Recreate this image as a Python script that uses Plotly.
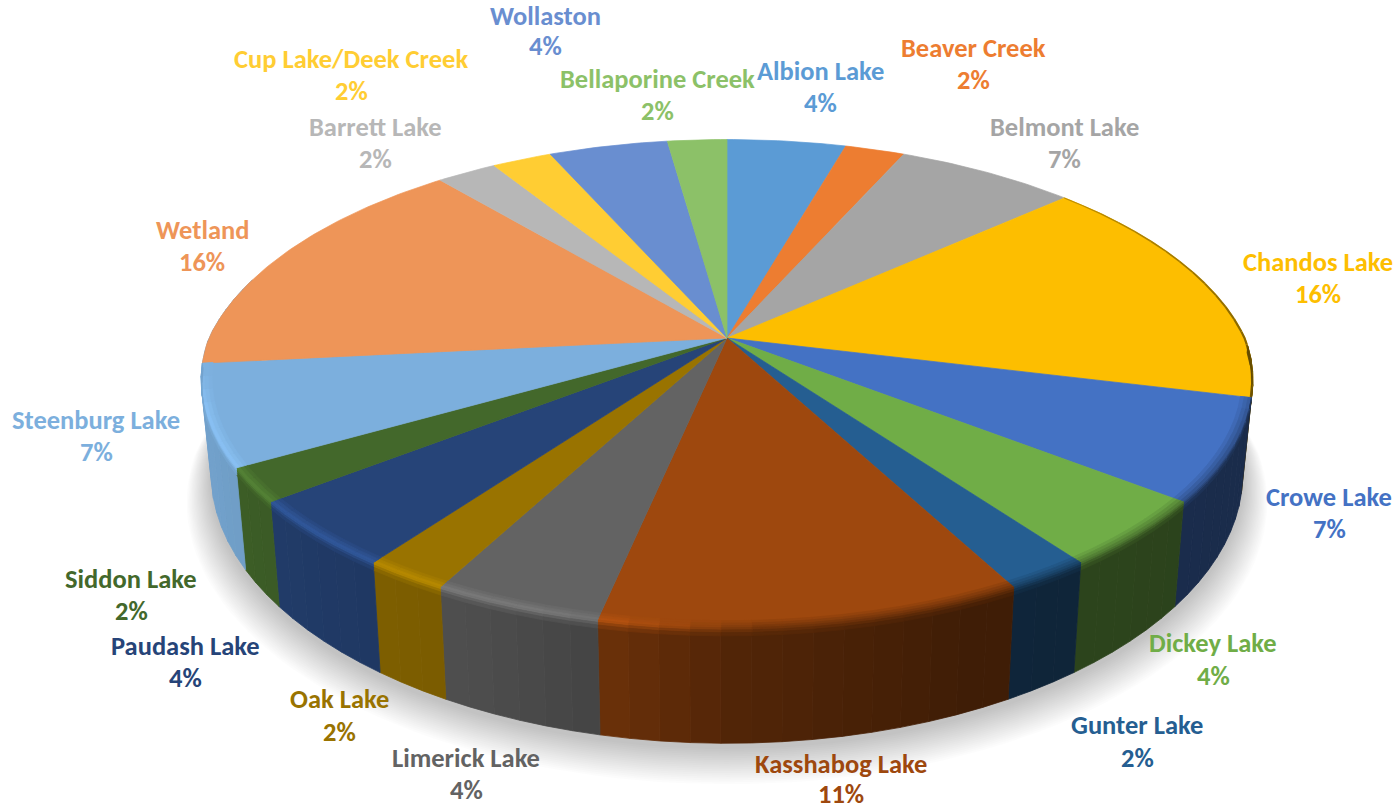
import numpy as np
import plotly.graph_objects as go

# ---------- data ----------
categories = ["Albion Lake", "Beaver Creek", "Belmont Lake", "Chandos Lake", "Crowe Lake",
              "Dickey Lake", "Gunter Lake", "Kasshabog Lake", "Limerick Lake", "Oak Lake",
              "Paudash Lake", "Siddon Lake", "Steenburg Lake", "Wetland", "Barrett Lake",
              "Cup Lake/Deek Creek", "Wollaston", "Bellaporine Creek"]
counts = [2, 1, 3, 7, 3, 2, 1, 5, 2, 1, 2, 1, 3, 7, 1, 1, 2, 1]

# ---------- styles ----------
colors = ["#5B9BD5", "#ED7D31", "#A5A5A5", "#FDBE00", "#4472C4", "#70AD47", "#255E91", "#9E480E",
          "#636363", "#997300", "#264478", "#43682B", "#7CAFDD", "#EE9558", "#B7B7B7", "#FFCD33",
          "#698ED0", "#8CC168"]
name_xy = [(820, 71), (973, 48), (1064, 127), (1318, 262), (1329, 497), (1213, 643), (1137, 725),
           (841, 764), (466, 758), (339, 699), (185, 646), (131, 579), (96, 420), (202, 230),
           (375, 127), (351, 59), (545, 16), (657, 79)]
pct_y = [103, 80, 159, 294, 529, 676, 758, 794, 790, 732, 678, 611, 452, 262, 159, 91, 46, 111]
FONT = "Carlito, Lato, sans-serif"
FONT_SIZE = 26.5

# perspective of the disc on the page
CX, CY = 727.0, 338.0
R_TOP, S_TOP = 518.0, 235.6
R_BOT, S_BOT, CY_BOT = 508.0, 255.5, 429.0
AY = 0.187


def ax_term(v):
    return 1 + np.where(v > 0, 0.21, 0.172) * v


def top_pt(theta, r=1.0):
    u, v = np.sin(theta) * r, np.cos(theta) * r
    return CX + R_TOP * u / ax_term(v), CY - S_TOP * v / (1 + AY * v)


def side_pt(theta, z):
    u, v = np.sin(theta), np.cos(theta)
    x0 = CX + R_TOP * u / ax_term(v)
    y0 = CY - S_TOP * v / (1 + AY * v)
    x1 = CX + R_BOT * u / ax_term(v)
    y1 = CY_BOT - S_BOT * v / (1 + AY * v)
    return x0 + (x1 - x0) * z, y0 + (y1 - y0) * z


def rgb(h):
    return np.array([int(h[i:i + 2], 16) for i in (1, 3, 5)], float)


def css(c):
    c = np.clip(c, 0, 255).round().astype(int)
    return f"rgb({c[0]},{c[1]},{c[2]})"


def side_factor(u):
    return np.interp(u, [-1, -0.95, -0.7, -0.4, -0.2, 0, 0.4, 1],
                     [0.92, 0.92, 0.85, 0.78, 0.68, 0.52, 0.40, 0.38])


def highlight(u):
    return np.interp(u, [-1, -0.3, -0.2, -0.1, 0.05, 1], [1, 1, 0.8, 0.5, 0, 0])


def poly(x, y, color, name=None):
    return go.Scatter(x=x, y=y, mode="lines", fill="toself", fillcolor=color,
                      line=dict(color=color, width=0.8), hoverinfo="skip",
                      showlegend=False, name=name)


fig = go.Figure()

# soft shadow below the disc
th = np.linspace(0, 2 * np.pi, 181)
for k in range(20, 0, -1):
    grow = 1 + 0.0024 * k
    bx, by = side_pt(th, 1.0)
    sx = CX + (bx - CX) * grow
    sy = CY_BOT + 4 + (by - CY_BOT) * grow + 1.1 * k
    fig.add_trace(go.Scatter(x=sx, y=sy, mode="lines", fill="toself", fillcolor="rgba(0,0,0,0.012)",
                             line=dict(width=0), hoverinfo="skip", showlegend=False))

total = sum(counts)
edges = np.cumsum([0] + counts) / total * 2 * np.pi
VIS0, VIS1 = np.radians(92), np.radians(285)
BEV0, BEV1 = np.radians(92), edges[categories.index("Wetland")]
bands = []

# outer wall; the Wetland part of the wall is hidden behind the Steenburg colour
for i, c in enumerate(colors):
    a0, a1 = max(edges[i], VIS0), min(edges[i + 1], VIS1)
    if a1 <= a0:
        continue
    base = rgb(c) if categories[i] != "Wetland" else rgb(colors[i - 1])
    grid = np.linspace(a0, a1, int(np.ceil(np.degrees(a1 - a0) / 3)) + 1)
    for t0, t1 in zip(grid[:-1], grid[1:]):
        tm = (t0 + t1) / 2
        u = np.sin(tm)
        wall = base * side_factor(u)
        seg = np.linspace(t0, t1, 3)
        xa, ya = side_pt(seg, 0.0)
        xb, yb = side_pt(seg[::-1], 1.0)
        fig.add_trace(poly(np.r_[xa, xb, xa[0]], np.r_[ya, yb, ya[0]], css(wall)))
        if tm > BEV1:
            continue
        mid = (base + wall) / 2
        lum = base @ np.array([0.3, 0.59, 0.11])
        bright = base * (1.45 - 0.35 * lum / 170)
        peak = mid + (bright - mid) * highlight(u)
        fade = min(1.0, (tm - BEV0) / np.radians(18), (BEV1 - tm) / np.radians(10))
        bands.append((seg, base, wall, peak, fade))

# top face
for i, (cat, c) in enumerate(zip(categories, colors)):
    seg = np.linspace(edges[i], edges[i + 1], max(4, counts[i] * 10))
    x, y = top_pt(seg)
    fig.add_trace(go.Scatter(x=np.r_[CX, x, CX], y=np.r_[CY, y, CY], mode="lines", fill="toself",
                             fillcolor=c, line=dict(color=c, width=0.7), name=cat,
                             hoverinfo="name", showlegend=False))

# thin dark edge along the far right of the rim
idx = categories.index("Chandos Lake")
grid = np.linspace(edges[idx], edges[idx + 1], 19)
for t0, t1 in zip(grid[:-1], grid[1:]):
    f = (t0 - grid[0]) / (grid[-1] - grid[0])
    x, y = top_pt(np.linspace(t0, t1, 3), 0.999)
    col = rgb(colors[idx]) * (0.75 - 0.3 * f)
    fig.add_trace(go.Scatter(x=x, y=y, mode="lines", line=dict(color=css(col), width=1.2 + 1.3 * f),
                             hoverinfo="skip", showlegend=False))

# bevel strips
top_steps = [(0.98, 0.987, 0.25), (0.987, 0.994, 0.55), (0.994, 1.0, 0.85)]
wall_steps = [(0.0, 0.02, 0.85), (0.02, 0.043, 0.5), (0.043, 0.07, 0.2)]
for seg, base, wall, peak, fade in bands:
    if seg[0] >= edges[idx + 1]:
        for r0, r1, w in top_steps:
            col = base + (peak - base) * w * fade
            xa, ya = top_pt(seg, r0)
            xb, yb = top_pt(seg[::-1], r1)
            fig.add_trace(poly(np.r_[xa, xb, xa[0]], np.r_[ya, yb, ya[0]], css(col)))
    for z0, z1, w in wall_steps:
        col = wall + (peak - wall) * w * fade
        xa, ya = side_pt(seg, z0)
        xb, yb = side_pt(seg[::-1], z1)
        fig.add_trace(poly(np.r_[xa, xb, xa[0]], np.r_[ya, yb, ya[0]], css(col)))

# labels
ann = []
for cat, n, c, (lx, ly), py in zip(categories, counts, colors, name_xy, pct_y):
    pct = f"{round(100 * n / total)}%"
    for txt, yy in ((cat, ly), (pct, py)):
        ann.append(dict(x=lx, y=yy, xref="x", yref="y", text=f"<b>{txt}</b>", showarrow=False,
                        xanchor="center", yanchor="middle",
                        font=dict(family=FONT, size=FONT_SIZE, color=c)))

fig.update_layout(width=1400, height=810, margin=dict(l=0, r=0, t=0, b=0),
                  paper_bgcolor="white", plot_bgcolor="white", showlegend=False,
                  annotations=ann,
                  xaxis=dict(range=[0, 1400], visible=False, fixedrange=True),
                  yaxis=dict(range=[810, 0], visible=False, fixedrange=True))
fig.write_html("out.html", config={"displayModeBar": False},
               post_script="document.body.style.margin='0';document.documentElement.style.overflow='hidden';")
